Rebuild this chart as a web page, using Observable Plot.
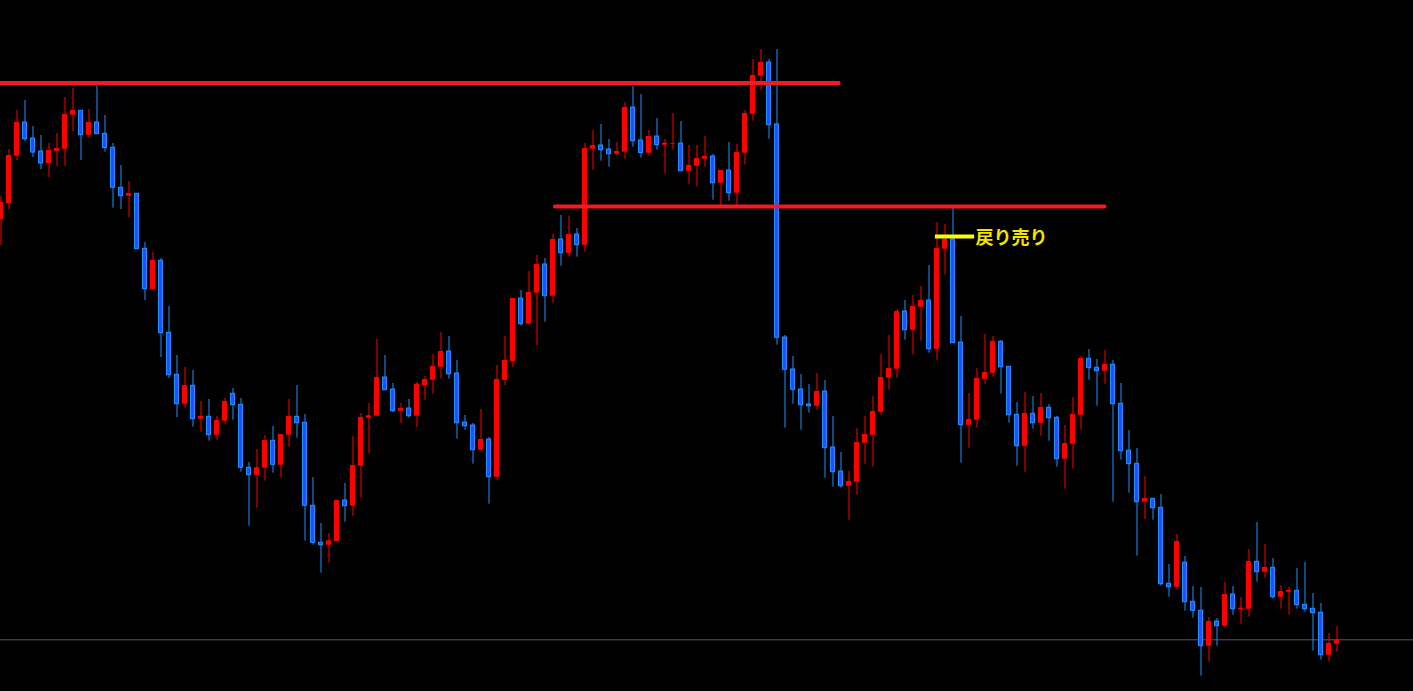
<!DOCTYPE html>
<html><head><meta charset="utf-8">
<script src="https://cdn.jsdelivr.net/npm/d3@7"></script>
<script src="https://cdn.jsdelivr.net/npm/@observablehq/plot@0.6"></script>
<style>html,body{margin:0;padding:0;background:#000;overflow:hidden}</style>
</head><body><div id="chart"></div>
<script>
// Candle data (arbitrary price units, higher = up)
const open = [481,497,544.3,578,562,549,537,549.3,551.3,585.3,589.7,565.3,578,566.7,552.7,512.7,504.3,506.7,451.7,411,
439.7,367.7,325.7,296.3,314.7,281.3,283.7,265.3,279.3,306.7,295.7,232.7,225.3,232.3,259.7,235.3,265.3,283.7,277.7,194.7,
157.7,155.3,159,200,194.3,234.3,282.3,284.3,323,311,289.3,292,284.3,315,320.3,333.3,349,327,278,275,
250.3,261,223.3,320,339,402,376.3,407.3,436,404.3,461,447.3,466,455.3,551.3,555,551,546.3,548.3,593,
560,547.3,564,555.3,556.3,557,529.3,534.3,541.3,544,517.3,530,507.3,547.3,586.3,624.3,638,576,363,331,
311,296,294.3,309,253,229,214.3,218.3,257.3,265.3,288.3,322.3,331.3,389,370.3,393.3,400,351.3,451.3,461,
358,275.3,280.3,321.3,327.3,358.7,333.7,285.7,254.3,286.7,277.3,292.7,282.7,241.3,256.3,285.3,341.7,332.7,329.3,335.7,
296.7,249.7,236.7,198.3,201.7,192.7,116.7,113.3,137.7,98.7,89.7,54.3,79,74.3,106,91,91.3,138.7,128.3,132.7,
103.3,108.3,109.7,95.7,91.7,87.7,45.3,56.3];
const high = [504,551,590,600,574,565,557,567,603,612,590,591,615,585,557,535,519,507,458,448,
442,394,345,333,330,299,301,284,302,312,302,238,251,265,274,266,301,315,286,223,
177,167,200,217,264,287,297,361,345,317,297,301,318.3,324,346,368,364,340,285,277,
291,263,335,364,402,410,429,445,442,466,485,484,472,557,570,576,561,558,598,614,
606,570,582,561,587,579,555,555,564,546,530,558,556,590,641,651,641,651,365,344,
326,316,327,320,284,248,229,272,284,304,346,365,391,400,405,414,435,478,476,492,
384,307,332,366,364,360,334,298,308,304,307,296,284,275,303,344,351,341,350,340,
317,270,252,224,202,206,136,166,144,114,113,83,82,118,114,103,151,178,156,142,
115,113,132,138,107,97,67,74];
const low = [455,491,540,559,543,531,523,534,534,569,540,562.3,566,548.3,492.3,491,483,451,400,411,
343,322,283,292.3,273.3,268.3,259.3,260.3,276.3,280.3,228.3,174.3,192.3,219.3,227.3,222.3,253.3,262.3,159.3,155.3,
127.3,137.3,158.3,178.3,184,203,246.3,284.3,310.3,288,277,282.3,273,300.3,306.3,321.3,321.3,261.3,270.3,236.3,
249.3,196.3,220.3,315,333,374.3,375.3,355,378.3,397.3,434.3,443.3,443.3,448.3,530.3,539.3,533.3,544.3,541.3,553.3,
542.3,544.3,550.3,526.3,550.3,529.3,516.3,513.3,533.3,500.3,495,499.3,495,535.3,579.3,610.3,561.3,355.3,272.3,296.3,
270.3,287.3,290.3,222.3,213.3,212.3,180.3,205.3,236.3,233.3,285.3,310.3,322.3,360.3,345.3,359.3,347.3,340.3,425.3,357.3,
237.3,252.3,272.3,316.3,323.3,306.3,277.3,234.3,228.3,271.3,264.3,259.3,233.3,211.3,231.3,270.3,320.3,294.3,316.3,198.3,
240.3,207.3,144.3,181,180.3,114.3,103.3,110.3,89.3,82.3,24.3,38.3,54.3,72.3,85.3,76.3,83.3,118.3,122.3,101.3,
91.3,85.3,91.3,88.3,49.3,40.3,38.3,48.3];
const close = [498,545,578,561.3,548,537,550,552,586,590,565.3,578,566.3,552.3,512.7,504.3,507,451.3,411.3,440,
367.3,325.3,296.3,315,281.3,284,265.3,280,299,295.3,232.7,225.3,232.7,260,235.7,266,284,277.3,194.7,157.7,
155.3,159.7,200,194.3,235,283,284.7,323,310.3,289.3,292,284.3,316.3,321,334,349,326.3,277.3,274.3,250.3,
261,223.3,321,340,402,376.3,408,436,404.3,461,447.3,466,455.3,552,555,550.3,546.3,549,593,559.3,
547.3,564,555.3,557.3,557,529.3,535,542,544,517.3,530,507.3,548,587,625,638,575.3,362.7,330.7,310.7,
295.3,294.3,309,252.3,228.3,214.3,219,258,266,289,323,332,389,370.3,394,400,351.3,452,461,357.3,
275.3,281,322,328,359,333.3,285.3,254.3,287,277.3,293,282.3,241.3,257,286,342,332.3,329.3,336,296.3,
249.3,236.3,198.3,202,192.3,116.3,113.3,159,98.3,89.7,54.3,79,74.3,106,91.3,92.3,139,128.3,133,103.3,
109,110,95.3,91.3,87.3,45.3,57,60.7];

// Horizontal levels (price, from bar index, to bar index)
const levelPrice = [617.5, 494];
const levelFrom = [-0.5, 69.3];
const levelTo = [104.77, 138.0];

// Annotation
const noteLabel = "戻り売り";
const notePrice = 464;
const noteFrom = 116.8;
const noteTo = 121.7;
const noteTextAt = 121.8;

const bars = open.map((o, i) => ({i, o, h: high[i], l: low[i], c: close[i], up: close[i] >= o}));
const ups = bars.filter(d => d.up);
const downs = bars.filter(d => !d.up);
const levels = levelPrice.map((p, j) => ({p, a: levelFrom[j], b: levelTo[j]}));
const lastPrice = close[close.length - 1];
const half = 0.3125;

const chart = Plot.plot({
  width: 1413,
  height: 691,
  margin: 0,
  style: {background: "#000", overflow: "hidden"},
  x: {type: "linear", domain: [-0.0625, 176.5625], axis: null},
  y: {domain: [9, 700], axis: null},
  marks: [
    Plot.ruleY([lastPrice], {y: d => d, stroke: "#55557a", strokeWidth: 1}),
    Plot.ruleX(ups, {x: "i", y1: "l", y2: "h", stroke: "#ff0000", strokeWidth: 1}),
    Plot.ruleX(downs, {x: "i", y1: "l", y2: "h", stroke: "#1e90ff", strokeWidth: 1}),
    Plot.rect(ups, {x1: d => d.i - half, x2: d => d.i + half, y1: "o", y2: "c", fill: "#ff0000", inset: 0}),
    Plot.rect(downs, {x1: d => d.i - half, x2: d => d.i + half, y1: "o", y2: "c", fill: "#2a4cff",
      stroke: "#1e90ff", strokeWidth: 1, insetLeft: 0.5, insetRight: 0.5, insetTop: 0, insetBottom: 0}),
    Plot.ruleY(levels, {y: "p", x1: "a", x2: "b", stroke: "#ee1c24", strokeWidth: 4, strokeLinecap: "round"}),
    Plot.ruleY([{p: notePrice, a: noteFrom, b: noteTo}], {y: "p", x1: "a", x2: "b", stroke: "#ffff00", strokeWidth: 4}),
    Plot.text([{x: noteTextAt, y: notePrice - 2, t: noteLabel}], {x: "x", y: "y", text: "t", textAnchor: "start",
      fill: "#f5e400", fontSize: 18, fontWeight: "bold", fontFamily: "'Noto Sans CJK JP', sans-serif"})
  ]
});
document.getElementById("chart").appendChild(chart);
</script>
</body></html>
